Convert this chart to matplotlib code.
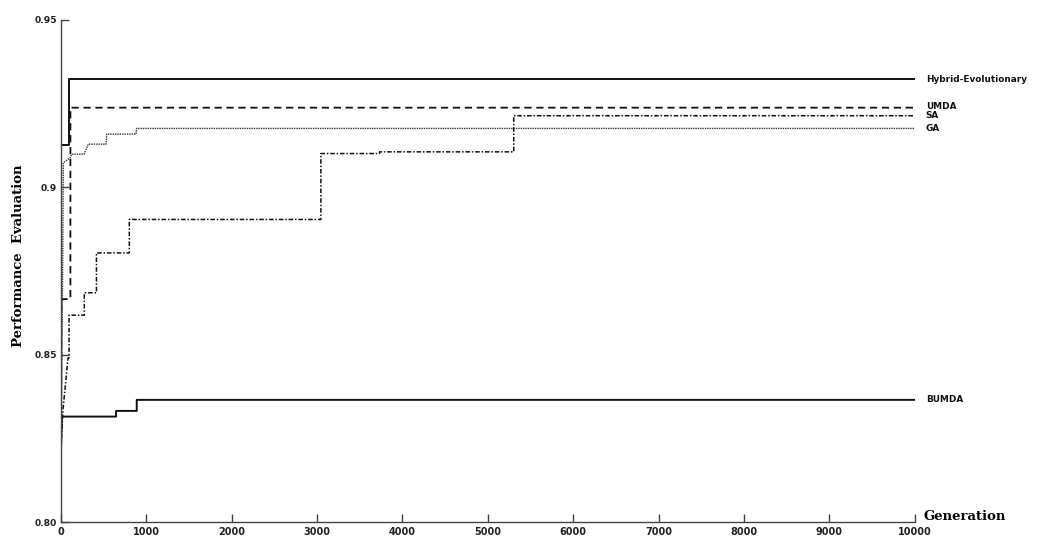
import matplotlib.pyplot as plt

# Best performance found per generation, corner points of each convergence curve
hybrid_gen = [0, 3, 3, 97, 97, 10000]
hybrid_val = [0.830, 0.830, 0.9126, 0.9126, 0.9323, 0.9323]

umda_gen = [0, 5, 110, 110, 10000]
umda_val = [0.820, 0.8666, 0.8666, 0.9238, 0.9238]

sa_gen = [0, 23, 82, 94, 94, 273, 273, 415, 415, 800, 800, 3044, 3044, 3731, 3731, 5303, 5303, 10000]
sa_val = [0.822, 0.8335, 0.849, 0.849, 0.8618, 0.8618, 0.8685, 0.8685, 0.8804, 0.8804,
          0.8904, 0.8904, 0.9101, 0.9101, 0.9106, 0.9106, 0.9214, 0.9214]

ga_gen = [0, 20, 27, 105, 125, 270, 320, 528, 535, 879, 885, 10000]
ga_val = [0.818, 0.880, 0.9073, 0.9088, 0.9099, 0.9099, 0.9129, 0.9129, 0.9159, 0.9159, 0.9176, 0.9176]

bumda_gen = [0, 10, 645, 645, 887, 887, 10000]
bumda_val = [0.822, 0.8315, 0.8315, 0.8332, 0.8332, 0.8365, 0.8365]

y_ticks = [0.80, 0.85, 0.9, 0.95]
y_tick_labels = ["0.80", "0.85", "0.9", "0.95"]
x_ticks = list(range(0, 10001, 1000))

fig = plt.figure(figsize=(10.43, 5.36), dpi=100)
ax = fig.add_axes([0.0585, 0.0261, 0.8185, 0.9366])

ax.plot(hybrid_gen, hybrid_val, color="#111111", lw=1.4, linestyle="-")
ax.plot(umda_gen, umda_val, color="#111111", lw=1.3, linestyle=(0, (4, 2.6)))
ax.plot(sa_gen, sa_val, color="#111111", lw=1.1, linestyle=(0, (3, 1.2, 1, 1.2)))
ax.plot(ga_gen, ga_val, color="#333333", lw=1.0, linestyle=(0, (1, 0.7)))
ax.plot(bumda_gen, bumda_val, color="#111111", lw=1.4, linestyle="-")

# series names at the right end of each curve
names = ["Hybrid-Evolutionary", "UMDA", "SA", "GA", "BUMDA"]
ends = [hybrid_val[-1], umda_val[-1] + 0.0005, sa_val[-1], ga_val[-1], bumda_val[-1]]
for name, end in zip(names, ends):
    ax.annotate(name, xy=(10000, end), xytext=(8, 0), textcoords="offset points",
                fontsize=6.4, fontweight="bold", color="#111111", va="center", ha="left",
                annotation_clip=False)

ax.set_xlim(0, 10000)
ax.set_ylim(0.80, 0.95)
ax.set_xticks(x_ticks)
ax.set_xticklabels([str(x) for x in x_ticks], fontsize=7, fontweight="bold", color="#222222")
ax.set_yticks(y_ticks)
ax.set_yticklabels(y_tick_labels, fontsize=6.6, fontweight="bold", color="#222222")
ax.tick_params(axis="both", direction="in", length=6, width=1, color="#444444")
ax.tick_params(axis="x", pad=3.5)
ax.tick_params(axis="y", pad=3)

for side in ["top", "right"]:
    ax.spines[side].set_visible(False)
for side in ["left", "bottom"]:
    ax.spines[side].set_color("#444444")
    ax.spines[side].set_linewidth(1)

ax.annotate("Generation", xy=(10000, 0.80), xytext=(6, -0.5), textcoords="offset points",
            fontsize=9.5, fontweight="bold", family="DejaVu Serif", va="bottom", ha="left",
            annotation_clip=False)
fig.text(0.018, 0.522, "Performance  Evaluation", rotation=90, fontsize=9.5,
         fontweight="bold", family="DejaVu Serif", va="center", ha="center")

plt.savefig("out.png", dpi=100)
